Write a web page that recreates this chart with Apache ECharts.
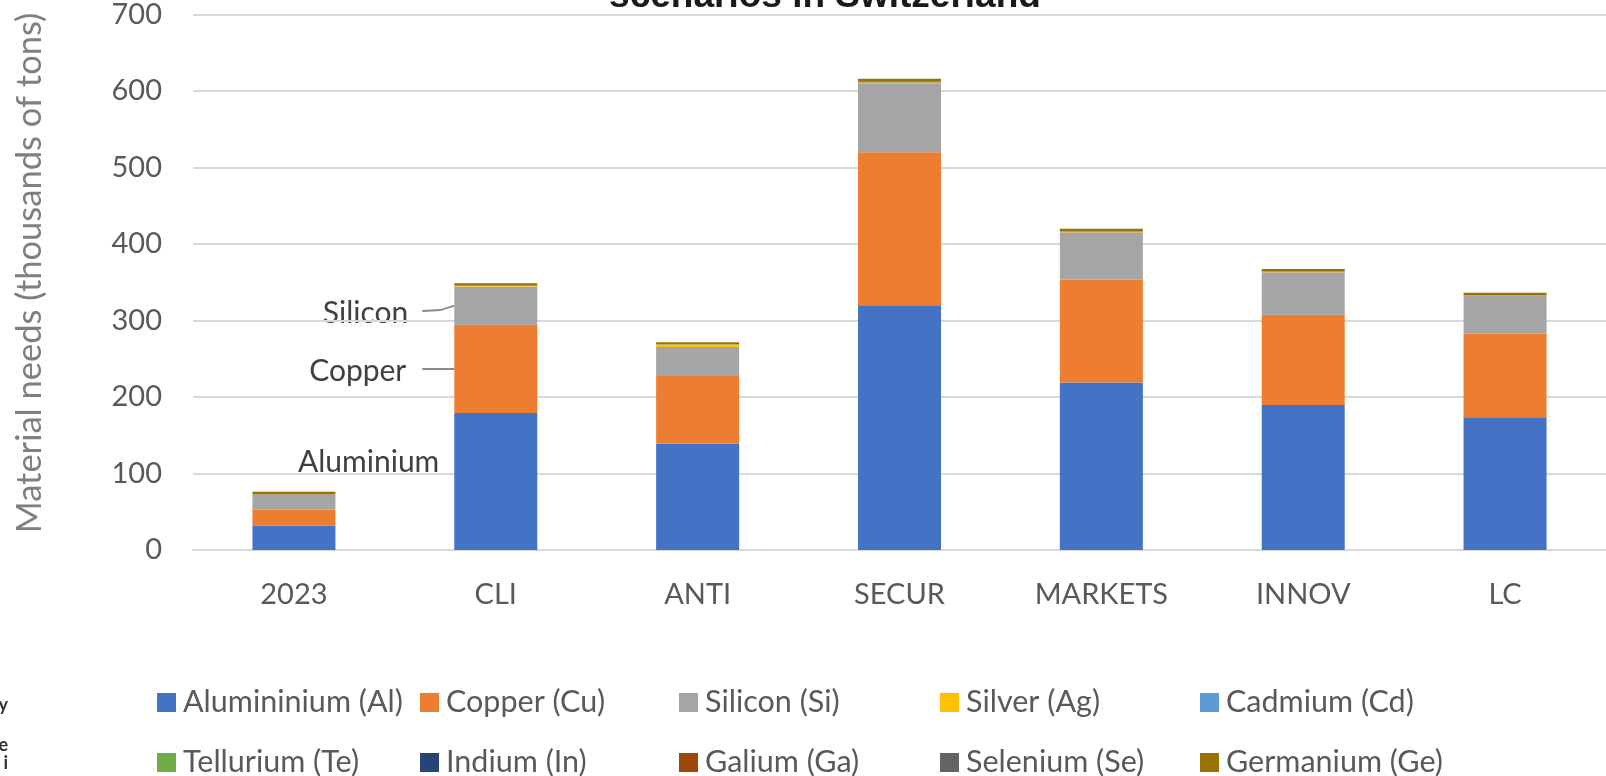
<!DOCTYPE html>
<html>
<head>
<meta charset="utf-8">
<script src="https://cdn.jsdelivr.net/npm/echarts@6/dist/echarts.min.js"></script>
<style>
html,body{margin:0;padding:0;background:#fff;}
#chart{width:1606px;height:776px;}
</style>
</head>
<body>
<div id="chart"></div>
<script>
// ---- data ----
const categories = ['2023', 'CLI', 'ANTI', 'SECUR', 'MARKETS', 'INNOV', 'LC'];
const aluminium = [32, 179, 139, 320, 219, 189.5, 173.5];
const copper    = [21, 115.5, 88.5, 200, 134.5, 118, 109.5];
const silicon   = [19, 50, 38, 90, 62, 55.5, 49];
const silver    = [0.3, 0.5, 3, 0.8, 0.6, 0.5, 0.5];
const cadmium   = [0.1, 0.2, 0.2, 0.3, 0.2, 0.2, 0.2];
const tellurium = [0.1, 0.2, 0.2, 0.3, 0.2, 0.2, 0.2];
const indium    = [0.1, 0.1, 0.1, 0.2, 0.1, 0.1, 0.1];
const galium    = [0.1, 0.1, 0.1, 0.2, 0.1, 0.1, 0.1];
const selenium  = [0.1, 0.1, 0.1, 0.2, 0.1, 0.1, 0.1];
const germanium = [3.5, 3, 2.5, 4, 3, 3, 3];
const yTicks = { min: 0, max: 700, interval: 100 };
const seriesNames = ['Alumininium (Al)', 'Copper (Cu)', 'Silicon (Si)', 'Silver (Ag)', 'Cadmium (Cd)',
  'Tellurium (Te)', 'Indium (In)', 'Galium (Ga)', 'Selenium (Se)', 'Germanium (Ge)'];
const seriesData = [aluminium, copper, silicon, silver, cadmium, tellurium, indium, galium, selenium, germanium];
const colors = ['#4472C4', '#ED7D31', '#A5A5A5', '#FFC000', '#5B9BD5', '#70AD47', '#264478', '#9E480E', '#636363', '#997300'];
const titleText = 'scenarios in Switzerland';
const yAxisTitle = 'Material needs (thousands of tons)';

const FONT = 'Lato';
const BAR_W = 83;

const chart = echarts.init(document.getElementById('chart'), null, { renderer: 'canvas' });

// legend laid out as a 5 x 2 grid: one legend component per item
const legendLefts = [157, 420, 679, 940, 1200];
const legendRowCenters = [703, 763];
const legends = seriesNames.map((n, k) => ({
  orient: 'horizontal',
  left: legendLefts[k % 5],
  top: legendRowCenters[Math.floor(k / 5)] - 16,
  itemWidth: 19,
  itemHeight: 19,
  icon: 'rect',
  padding: 0,
  data: [n],
  textStyle: { fontFamily: FONT, fontSize: 30.5, color: '#595959', padding: [0, 0, 0, 2] }
}));

const option = {
  animation: false,
  color: colors,
  grid: { left: 193, top: 12.7, height: 537.3, width: 1416, containLabel: false },
  legend: legends,
  xAxis: {
    type: 'category',
    data: categories,
    axisLine: { show: true, lineStyle: { color: '#d9d9d9', width: 2 } },
    axisTick: { show: false },
    axisLabel: { fontFamily: FONT, fontSize: 29, color: '#595959', margin: 30 }
  },
  yAxis: {
    type: 'value',
    min: yTicks.min, max: yTicks.max, interval: yTicks.interval,
    axisLine: { show: false },
    axisTick: { show: false },
    splitLine: { lineStyle: { color: '#d9d9d9', width: 2 } },
    axisLabel: { fontFamily: FONT, fontSize: 29, color: '#595959', margin: 31 }
  },
  series: seriesNames.map((n, i) => ({
    name: n,
    type: 'bar',
    stack: 'total',
    barWidth: BAR_W,
    data: seriesData[i],
    itemStyle: { color: colors[i] }
  })),
  graphic: []
};
chart.setOption(option);

function buildGraphics() {
  const i = 1; // CLI
  const cx = chart.convertToPixel({ xAxisIndex: 0 }, categories[i]);
  const left = cx - BAR_W / 2;
  const yPix = v => chart.convertToPixel({ yAxisIndex: 0 }, v);
  const ySi = yPix(aluminium[i] + copper[i] + silicon[i] / 2);
  const yCu = yPix(aluminium[i] + copper[i] / 2);
  const yAl = yPix(aluminium[i] / 2);
  const annFont = { fontFamily: FONT, fontSize: 30, fill: '#404040', align: 'right', verticalAlign: 'middle' };
  const lineStyle = { stroke: '#8c8c8c', lineWidth: 2, fill: null };
  const frag = { fontFamily: FONT, fontWeight: 'bold', fontSize: 18, fill: '#333', align: 'right', verticalAlign: 'middle' };
  return [
    { type: 'text', x: 825, y: -3, style: { text: titleText, fontFamily: 'Liberation Sans, Arial', fontWeight: 'bold', fontSize: 37, fill: '#1a1a1a', align: 'center', verticalAlign: 'middle' } },
    { type: 'text', x: 30, y: 273, rotation: Math.PI / 2, style: { text: yAxisTitle, fontFamily: FONT, fontSize: 34.5, fill: '#7f7f7f', align: 'center', verticalAlign: 'middle' } },
    { type: 'text', x: left - 46, y: ySi + 8, style: Object.assign({ text: 'Silicon' }, annFont) },
    { type: 'polyline', shape: { points: [[left - 32, ySi + 5.5], [left - 14, ySi + 4.5], [left, ySi]] }, style: lineStyle },
    { type: 'text', x: left - 48, y: yCu + 2, style: Object.assign({ text: 'Copper' }, annFont) },
    { type: 'line', shape: { x1: left - 32, y1: yCu, x2: left, y2: yCu }, style: lineStyle },
    { type: 'text', x: left - 15, y: yAl - 19, style: Object.assign({ text: 'Aluminium' }, annFont) },
    { type: 'text', x: 8, y: 705, style: Object.assign({ text: 'y' }, frag) },
    { type: 'text', x: 8, y: 745, style: Object.assign({ text: 'e' }, frag) },
    { type: 'text', x: 8, y: 763, style: Object.assign({ text: 'i' }, frag) }
  ];
}
chart.setOption({ graphic: buildGraphics() });
</script>
</body>
</html>
